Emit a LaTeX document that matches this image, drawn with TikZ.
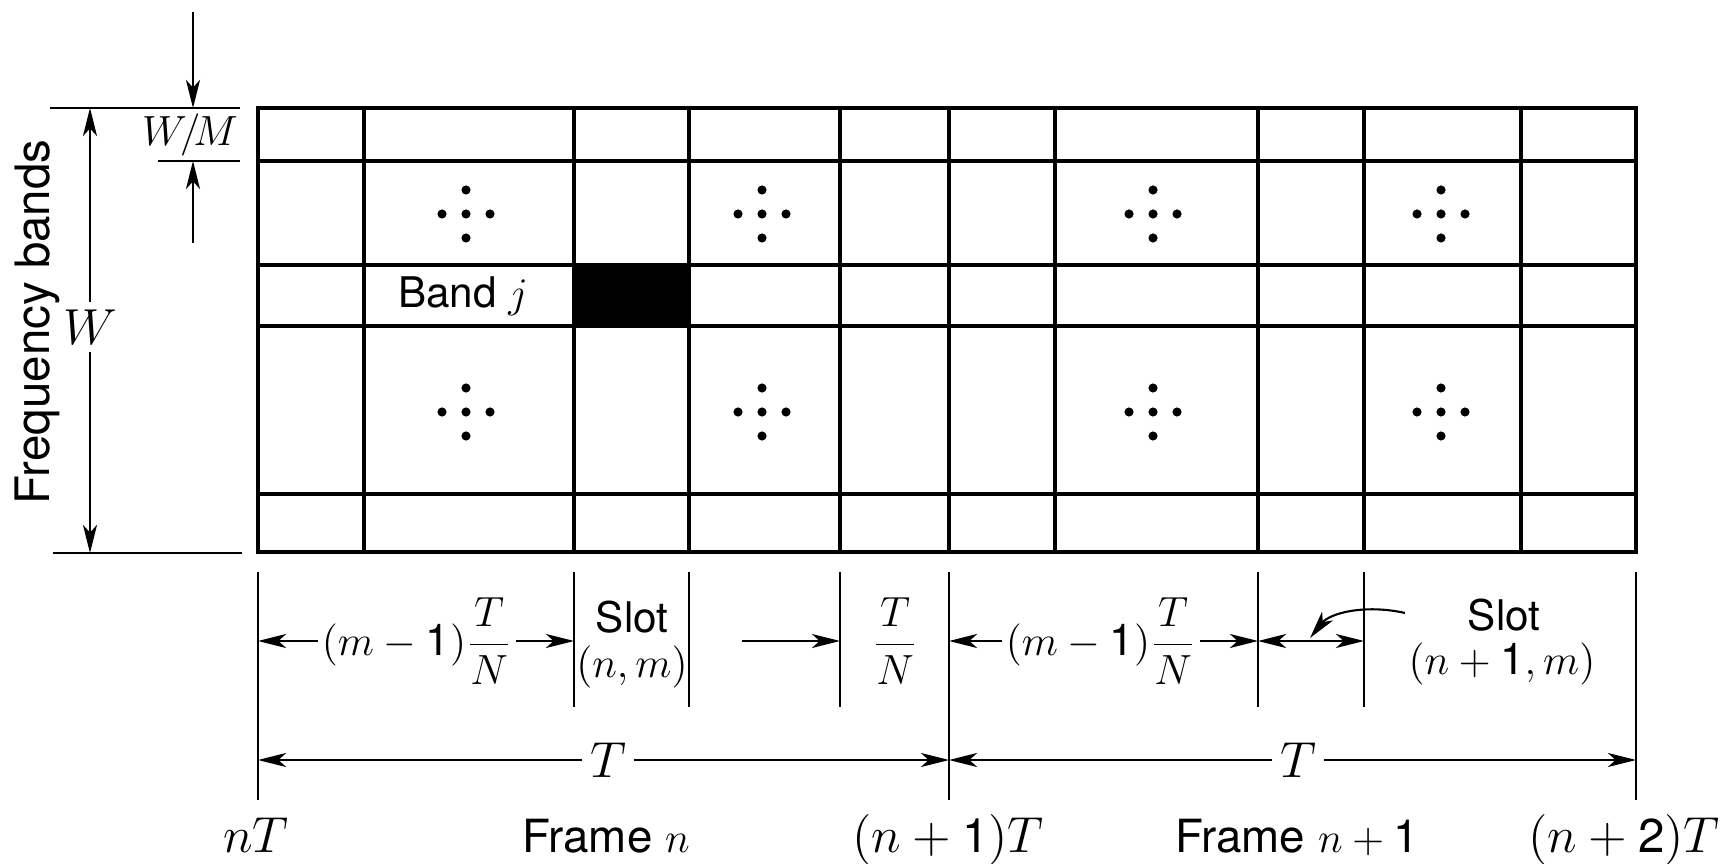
\documentclass[tikz,border=0pt]{standalone}
\usepackage{fontspec}
\setsansfont{TeX Gyre Heros}
\usetikzlibrary{arrows.meta}
\begin{document}
\begin{tikzpicture}[x=0.01cm,y=-0.01cm,
  gridline/.style={line width=1.2pt},
  dim/.style={line width=0.6pt},
  ext/.style={line width=0.7pt},
  arr/.style={dim,-{Stealth[length=8pt,width=4pt,inset=2.2pt]}},
  darr/.style={dim,{Stealth[length=8pt,width=4pt,inset=2.2pt]}-{Stealth[length=8pt,width=4pt,inset=2.2pt]}},
  lbl/.style={font=\sffamily\fontsize{12}{14}\selectfont, inner sep=1pt},
  mth/.style={font=\fontsize{12.5}{14}\selectfont, inner sep=1pt},
  big/.style={font=\sffamily\fontsize{13}{15}\selectfont, inner sep=1pt},
  bigm/.style={font=\fontsize{13.5}{15}\selectfont, inner sep=1pt}
]
\useasboundingbox (0,0) rectangle (1727,864);

% ---- grid ----
\fill (574,265) rectangle (689,326);
\foreach \x in {364,574,689,840,949,1055,1258,1364,1521}
  \draw[gridline] (\x,108) -- (\x,552);
\foreach \y in {161,265,326,494}
  \draw[gridline] (258,\y) -- (1636,\y);
\draw[gridline] (258,108) rectangle (1636,552);

% ---- dot clusters ----
\foreach \cx in {466,762,1153,1441}
  \foreach \cy in {214,412}
    \foreach \dx/\dy in {0/0,-24/0,24/0,0/-24,0/24}
      \fill (\cx+\dx,\cy+\dy) circle (1.3pt);

\node[lbl] (band) at (463,296) {Band $j$};

% ---- left dimensioning ----
\draw[ext] (50,108) -- (240,108);
\draw[ext] (158,161) -- (240,161);
\draw[ext] (53,553) -- (242,553);
\coordinate (wmtop) at (193,12);
\coordinate (wmtopend) at (193,108);
\coordinate (wmbot) at (193,243);
\coordinate (wmbotend) at (193,161);
\draw[arr] (wmtop) -- (wmtopend);
\draw[arr] (wmbot) -- (wmbotend);
\node[mth, anchor=east] (wm) at (242,135) {$W\!/\!M$};

\node[font=\fontsize{15}{17}\selectfont, inner sep=2pt] (W) at (90,327) {$W$};
\coordinate (wt) at (90,108);
\coordinate (wb) at (90,553);
\draw[arr] (W) -- (wt);
\draw[arr] (W) -- (wb);

\node[font=\sffamily\fontsize{13.5}{15}\selectfont, rotate=90, anchor=base, inner sep=0pt] (fb) at (50,322) {Frequency bands};

% ---- ticks below ----
\foreach \x in {258,949,1636}
  \draw[dim] (\x,572) -- (\x,800);
\foreach \x in {574,689,840,1258,1364}
  \draw[dim] (\x,572) -- (\x,707);

\coordinate (a0) at (258,641);
\coordinate (a1) at (574,641);
\coordinate (a3) at (840,641);
\coordinate (a4) at (949,641);
\coordinate (a5) at (1258,641);
\coordinate (a6) at (1364,641);
\coordinate (s0) at (742,641);

\node[mth] (mn1) at (417,641) {$(m-\textsf{1})\displaystyle\frac{T}{N}$};
\draw[arr] (mn1.west) -- (a0);
\draw[arr] (mn1.east) -- (a1);

\node[lbl] (slot1) at (632,617) {Slot};
\node[mth] (nm1) at (632,667) {$(n,m)$};

\draw[arr] (s0) -- (a3);
\node[mth] (tn) at (895,641) {$\displaystyle\frac{T}{N}$};

\node[mth] (mn2) at (1101,641) {$(m-\textsf{1})\displaystyle\frac{T}{N}$};
\draw[arr] (mn2.west) -- (a4);
\draw[arr] (mn2.east) -- (a5);

\draw[darr] (a5) -- (a6);

\coordinate (c0) at (1405,613);
\coordinate (c1) at (1310,638);
\draw[arr] (c0) .. controls (1365,604) and (1330,613) .. (c1);

\node[lbl] (slot2) at (1504,615) {Slot};
\node[mth] (nm2) at (1502,664) {$(n+\textsf{1},m)$};

% ---- frame arrows ----
\coordinate (b0) at (258,760);
\coordinate (b1) at (949,760);
\coordinate (b2) at (1636,760);
\node[bigm, inner sep=2pt] (T1) at (608,760) {$T$};
\node[bigm, inner sep=2pt] (T2) at (1298,760) {$T$};
\draw[arr] (T1) -- (b0);
\draw[arr] (T1) -- (b1);
\draw[arr] (T2) -- (b1);
\draw[arr] (T2) -- (b2);

% ---- bottom labels ----
\node[bigm, anchor=base] (l0) at (256,852) {$nT$};
\node[big, anchor=base] (f1) at (606,852) {Frame $n$};
\node[bigm, anchor=base] (l1) at (948,852) {$(n+\textsf{1})T$};
\node[big, anchor=base] (f2) at (1297,852) {Frame $n+\textsf{1}$};
\node[bigm, anchor=base east] (l2) at (1724,852) {$(n+\textsf{2})T$};
\end{tikzpicture}
\end{document}
